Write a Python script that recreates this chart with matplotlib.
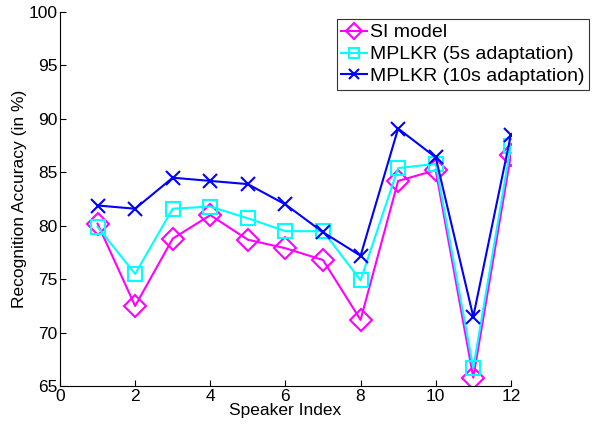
import matplotlib
matplotlib.use("Agg")
import matplotlib.pyplot as plt

plt.rcParams['font.family'] = ['Liberation Sans', 'DejaVu Sans']

speakers = list(range(1, 13))
si_model = [80.2, 72.5, 78.8, 81.0, 78.7, 77.9, 76.8, 71.2, 84.2, 85.2, 65.8, 86.6]
mplkr_5s = [79.9, 75.5, 81.6, 81.8, 80.7, 79.5, 79.5, 74.9, 85.4, 85.8, 66.7, 87.5]
mplkr_10s = [81.9, 81.6, 84.5, 84.2, 83.9, 82.0, 79.4, 77.2, 89.1, 86.4, 71.5, 88.5]

fig = plt.figure(figsize=(5.94, 4.30), dpi=100)
ax = fig.add_axes([0.101, 0.102, 0.759, 0.870])

ax.plot(speakers, si_model, color='#FF00FF', lw=1.5, marker='D', ms=11,
        mfc='none', mew=1.5, label='SI model')
ax.plot(speakers, mplkr_5s, color='#00FFFF', lw=1.5, marker='s', ms=9.5,
        mfc='none', mew=1.5, label='MPLKR (5s adaptation)')
ax.plot(speakers, mplkr_10s, color='#0000FF', lw=1.5, marker='x', ms=10,
        mew=1.5, label='MPLKR (10s adaptation)')

ax.set_xlim(0, 12)
ax.set_ylim(65, 100)
ax.set_xticks(range(0, 13, 2))
ax.set_yticks(range(65, 101, 5))
ax.tick_params(direction='in', labelsize=12.5, length=4, pad=2)
ax.spines['top'].set_visible(False)
ax.spines['right'].set_visible(False)
ax.set_xlabel('Speaker Index', fontsize=12.5, labelpad=-1)
ax.set_ylabel('Recognition Accuracy (in %)', fontsize=12.5, labelpad=1)

leg = ax.legend(loc='upper right', bbox_to_anchor=(589/594, 1-19/430),
                bbox_transform=fig.transFigure, fontsize=14, frameon=True,
                fancybox=False, edgecolor='black', handlelength=1.3,
                handletextpad=0.15, borderpad=0.25, labelspacing=0.22,
                borderaxespad=0, markerscale=0.75)
leg.get_frame().set_linewidth(0.8)

fig.savefig('out.png', dpi=100)
